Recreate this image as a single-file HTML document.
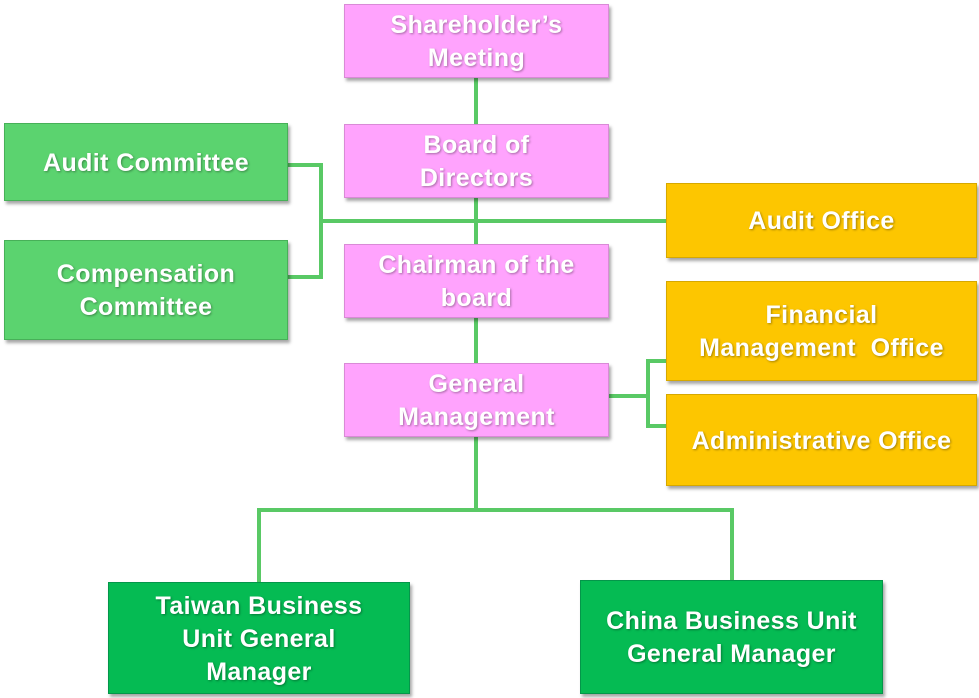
<!DOCTYPE html>
<html><head><meta charset="utf-8"><style>
body{margin:0;width:979px;height:698px;background:#fff;position:relative;overflow:hidden;font-family:"Liberation Sans",sans-serif}
.b{position:absolute;box-sizing:border-box;display:flex;align-items:center;justify-content:center;text-align:center;color:#fff;font-weight:bold;font-size:25px;letter-spacing:0.4px;line-height:33px;padding-top:2px;text-shadow:1px 1px 2px rgba(0,0,0,.35);box-shadow:2px 3px 3px rgba(0,0,0,.35)}
.p{background:#ffa3fd;border:1px solid #d98ad6}
.g{background:#5bd36f;border:1px solid #47b058}
.o{background:#fdc600;border:1px solid #d6a800}
.d{background:#05bb53;border:1px solid #04964a}
.l{position:absolute;background:#59c965}
</style></head><body>
<div class="l" style="left:474px;top:78px;width:4px;height:434px"></div>
<div class="l" style="left:320px;top:219px;width:346px;height:4px"></div>
<div class="l" style="left:319px;top:163px;width:4px;height:116px"></div>
<div class="l" style="left:288px;top:163px;width:34px;height:4px"></div>
<div class="l" style="left:288px;top:275px;width:34px;height:4px"></div>
<div class="l" style="left:609px;top:394px;width:40px;height:4px"></div>
<div class="l" style="left:646px;top:359px;width:4px;height:69px"></div>
<div class="l" style="left:646px;top:359px;width:20px;height:4px"></div>
<div class="l" style="left:646px;top:424px;width:20px;height:4px"></div>
<div class="l" style="left:257px;top:508px;width:477px;height:4px"></div>
<div class="l" style="left:257px;top:508px;width:4px;height:74px"></div>
<div class="l" style="left:730px;top:508px;width:4px;height:72px"></div>

<div class="b p" style="left:344px;top:4px;width:265px;height:74px">Shareholder’s<br>Meeting</div>
<div class="b p" style="left:344px;top:124px;width:265px;height:74px">Board of<br>Directors</div>
<div class="b p" style="left:344px;top:244px;width:265px;height:74px">Chairman of the<br>board</div>
<div class="b p" style="left:344px;top:363px;width:265px;height:74px">General<br>Management</div>
<div class="b g" style="left:4px;top:123px;width:284px;height:78px">Audit Committee</div>
<div class="b g" style="left:4px;top:240px;width:284px;height:100px">Compensation<br>Committee</div>
<div class="b o" style="left:666px;top:183px;width:311px;height:75px">Audit Office</div>
<div class="b o" style="left:666px;top:281px;width:311px;height:100px">Financial<br>Management&nbsp; Office</div>
<div class="b o" style="left:666px;top:394px;width:311px;height:92px">Administrative Office</div>
<div class="b d" style="left:108px;top:582px;width:302px;height:112px">Taiwan Business<br>Unit General<br>Manager</div>
<div class="b d" style="left:580px;top:580px;width:303px;height:114px">China Business Unit<br>General Manager</div>
</body></html>
